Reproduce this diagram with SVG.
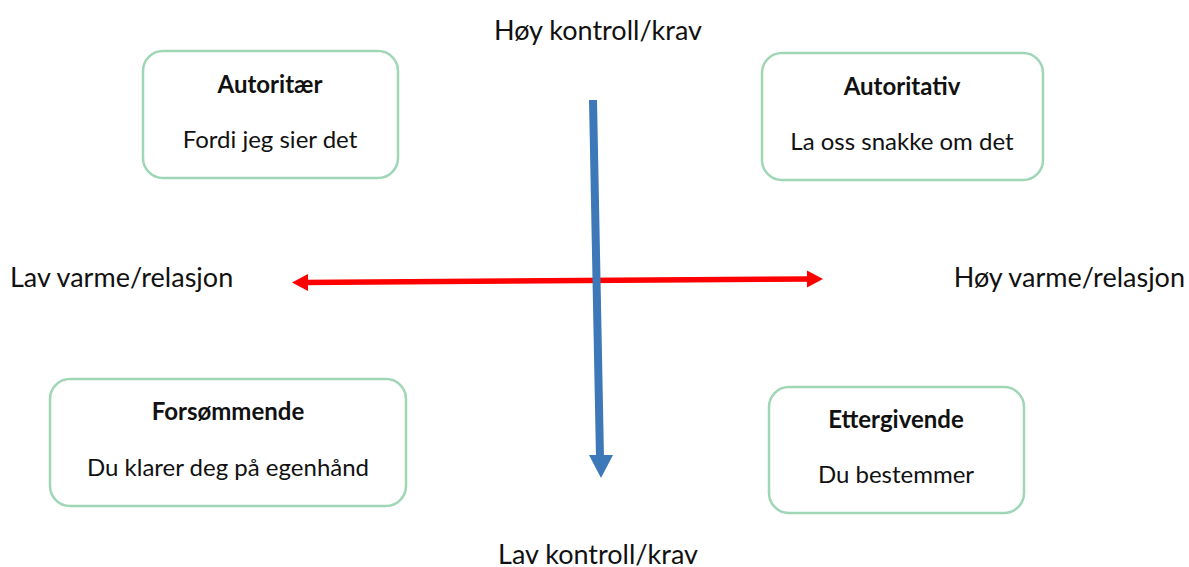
<svg xmlns="http://www.w3.org/2000/svg" width="1189" height="567" viewBox="0 0 1189 567">
<style>
.box{fill:#ffffff;stroke:#9fd6b6;stroke-width:2.5}
.t{font-family:Lato,"Liberation Sans",sans-serif;fill:#111;text-anchor:middle}
.h{font-size:24px;font-weight:bold}
.s{font-size:24px}
.l{font-family:Lato,"Liberation Sans",sans-serif;fill:#111;font-size:27px}
</style>
<rect width="1189" height="567" fill="#ffffff"/>
<g id="labels">
<text class="l" x="598" y="40" text-anchor="middle">Høy kontroll/krav</text>
<text class="l" x="598" y="564" text-anchor="middle">Lav kontroll/krav</text>
<text class="l" x="10" y="287">Lav varme/relasjon</text>
<text class="l" x="1185" y="287" text-anchor="end">Høy varme/relasjon</text>
</g>
<g id="connectors">
<g id="red-arrow">
<line x1="303" y1="282.5" x2="812" y2="279" stroke="#ff0000" stroke-width="5.5"/>
<polygon points="292,282.5 308,274 308,291" fill="#ff0000"/>
<polygon points="823,279 807,270.5 807,287.5" fill="#ff0000"/>
</g>
<g id="blue-arrow">
<line x1="593" y1="100" x2="600" y2="458" stroke="#3d79b8" stroke-width="8"/>
<polygon points="589,455 613,455 601,478" fill="#3d79b8"/>
</g>
</g>
<g id="node-autoritaer">
<rect class="box" x="143" y="51" width="255" height="127" rx="20"/>
<text class="t h" x="270" y="93">Autoritær</text>
<text class="t s" x="270" y="148">Fordi jeg sier det</text>
</g>
<g id="node-autoritativ">
<rect class="box" x="762" y="53" width="281" height="127" rx="20"/>
<text class="t h" x="902" y="95">Autoritativ</text>
<text class="t s" x="902" y="150">La oss snakke om det</text>
</g>
<g id="node-forsommende">
<rect class="box" x="50" y="379" width="356" height="127" rx="20"/>
<text class="t h" x="228" y="420">Forsømmende</text>
<text class="t s" x="228" y="476">Du klarer deg på egenhånd</text>
</g>
<g id="node-ettergivende">
<rect class="box" x="769" y="387" width="255" height="126" rx="20"/>
<text class="t h" x="896" y="428">Ettergivende</text>
<text class="t s" x="896" y="483">Du bestemmer</text>
</g>
</svg>
